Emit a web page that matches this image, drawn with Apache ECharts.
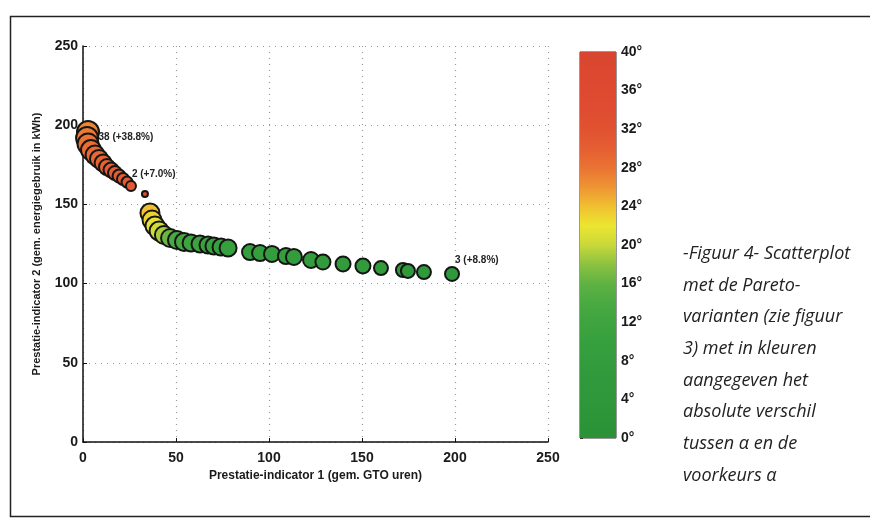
<!DOCTYPE html>
<html>
<head>
<meta charset="utf-8">
<script src="https://cdn.jsdelivr.net/npm/echarts@6/dist/echarts.min.js"></script>
<style>
html,body{margin:0;padding:0;background:#fff;}
#chart{width:870px;height:529px;}
</style>
</head>
<body>
<div id="chart"></div>
<script>
// ---- Data ----
// Prestatie-indicator 1 (gem. GTO uren)
const xVals = [2.7, 2.2, 2.7, 4.3, 6.5, 8.6, 10.8, 12.9, 15.1, 17.2, 19.4, 21.5, 23.7, 25.8,
  33.3,
  36.0, 37.1, 38.7, 40.9, 43.5, 46.8, 50.5, 54.3, 58.1, 62.9, 67.2, 70.4, 74.2, 78.0,
  89.8, 95.2, 101.6, 109.1, 113.4, 122.6, 129.0, 139.8, 150.5, 160.2, 172.0, 174.7, 183.3, 198.4];
// Prestatie-indicator 2 (gem. energiegebruik in kWh)
const yVals = [195.7, 191.9, 188.1, 184.3, 181.2, 178.7, 176.1, 173.6, 171.7, 169.8, 167.9, 166.0, 164.1, 161.6,
  156.6,
  144.6, 140.1, 136.4, 133.2, 130.7, 128.8, 127.5, 126.3, 125.6, 125.0, 124.4, 123.7, 123.1, 122.5,
  119.9, 119.3, 118.7, 117.4, 116.8, 114.9, 113.6, 112.4, 111.1, 109.8, 108.6, 108.0, 107.3, 106.1];
// absolute difference between alpha and preferred alpha (degrees)
const angleDiff = [27, 27.5, 28, 28.5, 29, 29, 29.5, 29.5, 30, 30, 30, 30.5, 30.5, 31,
  36,
  24, 23, 21.5, 20.5, 19, 16.5, 14, 13, 12, 11.5, 11, 10.5, 10, 10,
  9, 9, 8.5, 8.5, 8, 8, 7.5, 7, 7, 6.5, 6, 6, 6, 5.5];
// marker size (relative)
const sizes = [22, 22, 21, 20, 19, 18, 17, 16, 15, 14, 13, 12, 11, 10,
  6,
  19, 19, 19, 19, 18, 18, 18, 18, 17, 17, 17, 17, 17, 17,
  16, 16, 16, 16, 16, 16, 15, 15, 15, 14, 14, 14, 14, 14];
// point annotations: [index, text]
const pointLabels = [[2, '38 (+38.8%)'], [14, '2 (+7.0%)'], [42, '3 (+8.8%)']];

// axis ticks
const axisMin = 0, axisMax = 250, axisStep = 50;
const cbMin = 0, cbMax = 40, cbStep = 4;
// colormap (0..40 deg, every 2 deg)
const colormap = ['#2b9237','#2c9538','#2e983a','#30993b','#339c3c','#37a03e','#3ea43f','#4aa941',
  '#5fb243','#8cc240','#c8d83a','#ece630','#f0c030','#ee9433','#ea7333','#e55e32',
  '#e15231','#df4c30','#de4a30','#dc4830','#d84530'];
const caption = ['-Figuur 4- Scatterplot', 'met de Pareto-', 'varianten (zie figuur', '3) met in kleuren',
  'aangegeven het', 'absolute verschil', 'tussen \u03b1 en de', 'voorkeurs \u03b1'];

// ---- build ----
const labelPos = {2: [22, 5], 14: [-9, -16], 42: [11, -6]};
const labelMap = {};
pointLabels.forEach(p => labelMap[p[0]] = p[1]);
const scatterData = xVals.map((x, i) => {
  const item = {value: [x, yVals[i], angleDiff[i], sizes[i]]};
  if (labelMap[i] !== undefined) {
    item.label = {show: true, formatter: labelMap[i], position: labelPos[i],
      align: 'left', verticalAlign: 'middle',
      fontFamily: 'Liberation Sans, Arial', fontWeight: 'bold', fontSize: 10, color: '#222'};
  }
  return item;
});

const chart = echarts.init(document.getElementById('chart'), null, {renderer: 'canvas'});
const axisFont = {fontFamily: 'Liberation Sans, Arial', fontWeight: 'bold', color: '#1a1a1a'};
const stops = colormap.map((c, i) => ({offset: 1 - i / (colormap.length - 1), color: c}));

chart.setOption({
  backgroundColor: '#fff',
  animation: false,
  title: {
    text: caption.join('\n'),
    left: 678, top: 233,
    textStyle: {fontFamily: 'Open Sans', fontStyle: 'italic', fontWeight: 'normal',
      fontSize: 18, lineHeight: 31.7, color: '#222'}
  },
  graphic: [{
    type: 'rect', left: 8, top: 14, silent: true, z: -1,
    shape: {width: 900, height: 500},
    style: {fill: null, stroke: '#222', lineWidth: 1.5}
  }],
  grid: [
    {left: 83, top: 46, width: 465, height: 396},
    {left: 580, top: 52, width: 36, height: 386, show: true, borderColor: '#333', borderWidth: 1, backgroundColor: 'transparent'}
  ],
  xAxis: [{
    gridIndex: 0, type: 'value', min: axisMin, max: axisMax, interval: axisStep,
    name: 'Prestatie-indicator 1 (gem. GTO uren)', nameLocation: 'middle', nameGap: 26,
    nameTextStyle: Object.assign({fontSize: 12}, axisFont),
    axisLine: {lineStyle: {color: '#111', width: 1.5}},
    axisTick: {inside: true, length: 4, lineStyle: {color: '#111'}},
    axisLabel: Object.assign({fontSize: 14, margin: 9}, axisFont),
    splitLine: {show: true, lineStyle: {color: '#999', type: [1, 5], width: 1.2}}
  }, {
    gridIndex: 1, type: 'value', min: 0, max: 1, show: false
  }],
  yAxis: [{
    gridIndex: 0, type: 'value', min: axisMin, max: axisMax, interval: axisStep,
    name: 'Prestatie-indicator 2 (gem. energiegebruik in kWh)', nameLocation: 'middle', nameGap: 41,
    nameTextStyle: Object.assign({fontSize: 11}, axisFont),
    axisLine: {show: true, lineStyle: {color: '#111', width: 1.5}},
    axisTick: {show: true, inside: true, length: 4, lineStyle: {color: '#111'}},
    axisLabel: Object.assign({fontSize: 14, margin: 5}, axisFont),
    splitLine: {show: true, lineStyle: {color: '#999', type: [1, 5], width: 1.2}}
  }, {
    gridIndex: 1, type: 'value', min: cbMin, max: cbMax, interval: cbStep, position: 'right',
    axisLine: {show: false},
    axisTick: {show: true, inside: false, length: 3, lineStyle: {color: '#333'}},
    axisLabel: Object.assign({fontSize: 14, margin: 5, formatter: '{value}\u00b0'}, axisFont),
    splitLine: {show: false}
  }],
  visualMap: {
    show: false, type: 'continuous', seriesIndex: 0, dimension: 2,
    min: cbMin, max: cbMax, inRange: {color: colormap}
  },
  series: [{
    type: 'scatter', xAxisIndex: 0, yAxisIndex: 0,
    data: scatterData,
    symbolSize: v => v[3],
    itemStyle: {borderColor: '#151515', borderWidth: 2, opacity: 1},
    z: 3
  }, {
    type: 'custom', xAxisIndex: 1, yAxisIndex: 1,
    data: [[0, cbMin, 1, cbMax]],
    renderItem: (params, api) => {
      const p0 = api.coord([api.value(0), api.value(3)]);
      const p1 = api.coord([api.value(2), api.value(1)]);
      return {
        type: 'rect',
        shape: {x: p0[0], y: p0[1], width: p1[0] - p0[0], height: p1[1] - p0[1]},
        style: {fill: new echarts.graphic.LinearGradient(0, 0, 0, 1, stops)}
      };
    },
    z: 1, silent: true
  }]
});
</script>
</body>
</html>
